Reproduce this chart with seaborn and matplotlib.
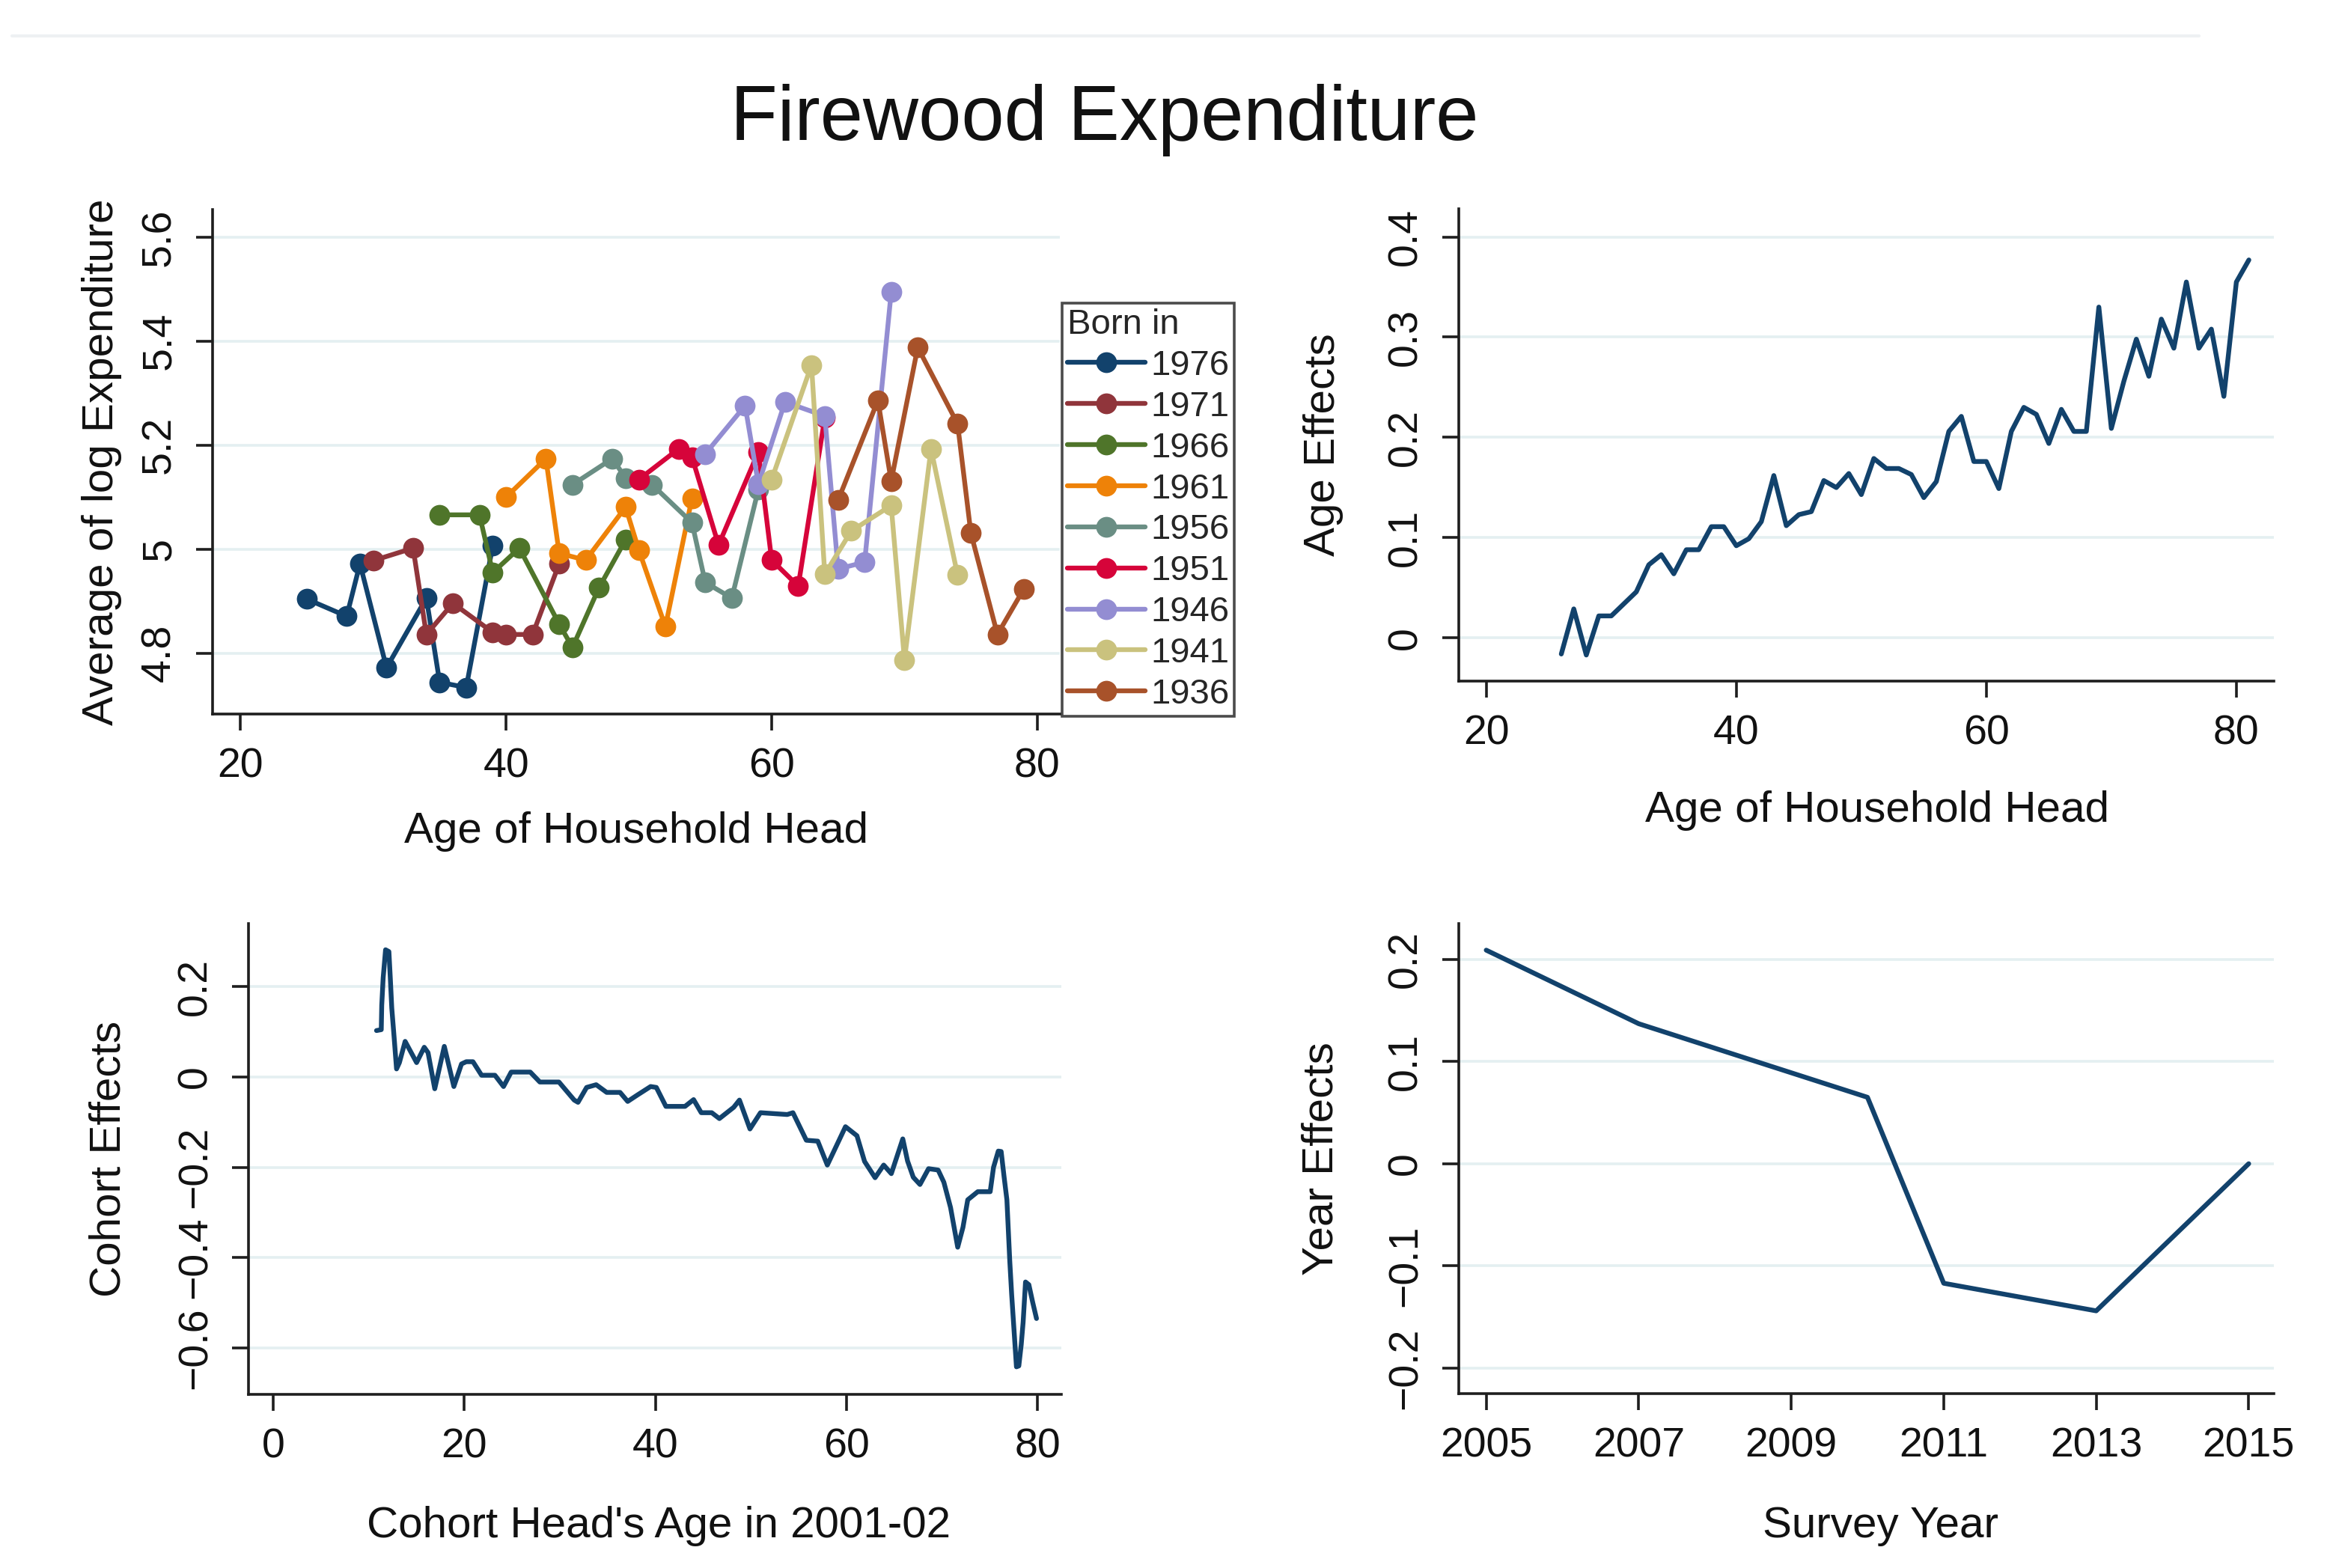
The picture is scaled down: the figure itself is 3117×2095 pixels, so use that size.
import numpy as np
import pandas as pd
import matplotlib
matplotlib.use("Agg")
import matplotlib.pyplot as plt
from matplotlib.lines import Line2D
from matplotlib.ticker import FixedLocator, FuncFormatter
import seaborn as sns

# ---- data ----
cohorts = ["1976", "1971", "1966", "1961", "1956", "1951", "1946", "1941", "1936"]
cohort_colors = ["#12426c", "#90353b", "#4f752a", "#ee8208", "#6a8e84",
                 "#d6043a", "#938dd2", "#cac27e", "#a8522a"]

ages_1976 = [25, 28, 29, 31, 34, 35, 37, 39]
exp_1976 = [4.904, 4.871, 4.972, 4.772, 4.906, 4.744, 4.734, 5.007]
ages_1971 = [30, 33, 34, 36, 39, 40, 42, 44]
exp_1971 = [4.978, 5.002, 4.836, 4.896, 4.840, 4.836, 4.836, 4.972]
ages_1966 = [35, 38, 39, 41, 44, 45, 47, 49]
exp_1966 = [5.066, 5.066, 4.955, 5.002, 4.856, 4.811, 4.926, 5.018]
ages_1961 = [40, 43, 44, 46, 49, 50, 52, 54]
exp_1961 = [5.100, 5.174, 4.992, 4.979, 5.081, 4.998, 4.851, 5.098]
ages_1956 = [45, 48, 49, 51, 54, 55, 57, 59]
exp_1956 = [5.124, 5.174, 5.137, 5.124, 5.051, 4.936, 4.906, 5.115]
ages_1951 = [50, 53, 54, 56, 59, 60, 62, 64]
exp_1951 = [5.134, 5.193, 5.177, 5.008, 5.187, 4.979, 4.929, 5.253]
ages_1946 = [55, 58, 59, 61, 64, 65, 67, 69]
exp_1946 = [5.183, 5.276, 5.125, 5.283, 5.256, 4.962, 4.975, 5.494]
ages_1941 = [60, 63, 64, 66, 69, 70, 72, 74]
exp_1941 = [5.134, 5.354, 4.952, 5.035, 5.084, 4.787, 5.193, 4.950]
ages_1936 = [65, 68, 69, 71, 74, 75, 77, 79]
exp_1936 = [5.094, 5.286, 5.131, 5.388, 5.241, 5.031, 4.836, 4.924]

age_years = list(range(26, 82))
age_effects = [-0.016, 0.029, -0.017, 0.022, 0.022, 0.034, 0.046, 0.073, 0.083, 0.064,
               0.088, 0.088, 0.111, 0.111, 0.092, 0.099, 0.116, 0.162, 0.112, 0.123,
               0.126, 0.157, 0.150, 0.164, 0.143, 0.179, 0.169, 0.169, 0.163, 0.140,
               0.156, 0.206, 0.221, 0.176, 0.176, 0.149, 0.206, 0.230, 0.223, 0.194,
               0.228, 0.206, 0.206, 0.330, 0.209, 0.256, 0.298, 0.261, 0.318, 0.289,
               0.355, 0.289, 0.308, 0.241, 0.355, 0.377]

cohort_head_age = [10.8, 11.3, 11.35, 11.5, 11.75, 12.1, 12.25, 12.4, 12.65, 12.9,
                   13.2, 13.8, 15.0, 15.8, 16.2, 16.9, 17.9, 18.9, 19.7, 20.2,
                   20.9, 21.8, 23.2, 24.1, 24.9, 26.9, 27.9, 29.9, 31.5, 31.9,
                   32.8, 33.8, 34.9, 36.3, 37.1, 38.1, 39.5, 40.1, 41.1, 43.1,
                   44.0, 44.8, 45.9, 46.7, 48.2, 48.8, 49.9, 51.0, 53.8, 54.4,
                   55.8, 57.0, 58.0, 59.9, 61.1, 61.9, 63.0, 63.9, 64.7, 65.9,
                   66.4, 67.0, 67.7, 68.6, 69.6, 70.2, 70.9, 71.65, 72.2, 72.7,
                   73.75, 75.05, 75.4, 75.9, 76.2, 76.5, 76.8, 77.1, 77.3, 77.55,
                   77.8, 78.05, 78.3, 78.5, 78.75, 79.1, 79.5, 79.9]
cohort_effects = [0.103, 0.105, 0.159, 0.22, 0.282, 0.278, 0.218, 0.153, 0.087, 0.018,
                  0.032, 0.079, 0.032, 0.066, 0.054, -0.026, 0.068, -0.021, 0.029, 0.034,
                  0.034, 0.004, 0.004, -0.021, 0.011, 0.011, -0.011, -0.011, -0.051, -0.056,
                  -0.023, -0.017, -0.034, -0.034, -0.054, -0.040, -0.021, -0.023, -0.065, -0.065,
                  -0.050, -0.079, -0.079, -0.092, -0.067, -0.051, -0.115, -0.079, -0.083, -0.079,
                  -0.140, -0.142, -0.195, -0.110, -0.130, -0.187, -0.223, -0.195, -0.214, -0.137,
                  -0.186, -0.222, -0.238, -0.203, -0.206, -0.233, -0.289, -0.377, -0.333, -0.272,
                  -0.254, -0.254, -0.200, -0.164, -0.165, -0.220, -0.272, -0.407, -0.482, -0.562,
                  -0.642, -0.640, -0.593, -0.543, -0.454, -0.460, -0.499, -0.535]

survey_years = [2005, 2007, 2010, 2011, 2013, 2015]
year_effects = [0.209, 0.137, 0.065, -0.117, -0.144, 0.0]

# long table for the cohort panel
ages_all = [ages_1976, ages_1971, ages_1966, ages_1961, ages_1956,
            ages_1951, ages_1946, ages_1941, ages_1936]
exp_all = [exp_1976, exp_1971, exp_1966, exp_1961, exp_1956,
           exp_1951, exp_1946, exp_1941, exp_1936]
rows = []
for c, a, e in zip(cohorts, ages_all, exp_all):
    for ai, ei in zip(a, e):
        rows.append({"age": ai, "exp": ei, "cohort": c})
df_cohort = pd.DataFrame(rows)
df_age = pd.DataFrame({"age": age_years, "eff": age_effects})
df_coh = pd.DataFrame({"age": cohort_head_age, "eff": cohort_effects})
df_year = pd.DataFrame({"year": survey_years, "eff": year_effects})

# ---- style ----
sns.set_theme(style="white")
plt.rcParams["font.family"] = ["Liberation Sans", "DejaVu Sans"]
plt.rcParams["axes.unicode_minus"] = True

navy = "#12426c"
grid_col = "#e4eff1"
LW = 2.3
MS = 10
W, H = 3117, 2095
fig = plt.figure(figsize=(W / 200, H / 200), dpi=200)


def box(l, t, r, b):
    return [l / W, 1 - b / H, (r - l) / W, (b - t) / H]


def fmt(v, pos):
    s = f"{v:g}"
    return s.replace("-", "\u2212")


def style_axis(ax, xticks, yticks, xlim, ylim, xlabel, ylabel, xl_pos, yl_pos):
    ax.set_xlim(*xlim)
    ax.set_ylim(*ylim)
    ax.xaxis.set_major_locator(FixedLocator(xticks))
    ax.yaxis.set_major_locator(FixedLocator(yticks))
    ax.xaxis.set_major_formatter(FuncFormatter(fmt))
    ax.yaxis.set_major_formatter(FuncFormatter(fmt))
    for s in ["top", "right"]:
        ax.spines[s].set_visible(False)
    for s in ["left", "bottom"]:
        ax.spines[s].set_color("#1e1e1e")
        ax.spines[s].set_linewidth(1.3)
    ax.yaxis.grid(True, color=grid_col, linewidth=1.3)
    ax.xaxis.grid(False)
    ax.set_axisbelow(True)
    ax.tick_params(axis="both", direction="out", length=8, width=1.3,
                   color="#1e1e1e", labelsize=20, labelcolor="#111111", pad=8,
                   bottom=True, left=True)
    ax.tick_params(axis="y", labelrotation=90)
    for lab in ax.get_yticklabels():
        lab.set_va("center")
    ax.set_xlabel(xlabel, fontsize=21, va="top", color="#111111")
    ax.set_ylabel(ylabel, fontsize=21, color="#111111")
    ax.xaxis.set_label_coords(*xl_pos)
    ax.yaxis.set_label_coords(*yl_pos)
    ax.set_facecolor("white")


# ---- panel 1: averages by birth cohort ----
ax1 = fig.add_axes(box(284, 280, 1416, 954))
sns.lineplot(data=df_cohort, x="age", y="exp", hue="cohort", hue_order=cohorts,
             palette=cohort_colors, marker="o", markersize=MS, markeredgewidth=0,
             linewidth=LW, estimator=None, legend=False, ax=ax1)
style_axis(ax1, [20, 40, 60, 80], [4.8, 5.0, 5.2, 5.4, 5.6], (17.9, 81.7), (4.683, 5.653),
           "Age of Household Head", "Average of log Expenditure", (0.5, -0.193), (-0.107, 0.5))
handles = [Line2D([], [], color=c, marker="o", markersize=MS, markeredgewidth=0, linewidth=LW)
           for c in cohort_colors]
leg = ax1.legend(handles, cohorts, title="Born in", loc="upper left",
                 bbox_to_anchor=(1419 / W, 1 - 405 / H), bbox_transform=fig.transFigure,
                 borderaxespad=0, fontsize=17, title_fontsize=17, alignment="left",
                 handlelength=2.2, handletextpad=0.15, labelspacing=0.23,
                 borderpad=0.15, frameon=True, fancybox=False)
leg.get_frame().set_edgecolor("#1e1e1e")
leg.get_frame().set_linewidth(1.3)

# ---- panel 2: age effects ----
ax2 = fig.add_axes(box(1949, 279, 3038, 910))
sns.lineplot(data=df_age, x="age", y="eff", color=navy, linewidth=LW, ax=ax2)
style_axis(ax2, [20, 40, 60, 80], [0, 0.1, 0.2, 0.3, 0.4], (17.8, 83.0), (-0.043, 0.428),
           "Age of Household Head", "Age Effects", (0.513, -0.231), (-0.141, 0.5))

# ---- panel 3: cohort effects ----
ax3 = fig.add_axes(box(332, 1234, 1418, 1863))
sns.lineplot(data=df_coh, x="age", y="eff", color=navy, linewidth=LW,
             estimator=None, sort=False, ax=ax3)
style_axis(ax3, [0, 20, 40, 60, 80], [-0.6, -0.4, -0.2, 0, 0.2], (-2.6, 82.5), (-0.703, 0.340),
           "Cohort Head's Age in 2001-02", "Cohort Effects", (0.505, -0.237), (-0.147, 0.5))

# ---- panel 4: year effects ----
ax4 = fig.add_axes(box(1949, 1234, 3038, 1862))
sns.lineplot(data=df_year, x="year", y="eff", color=navy, linewidth=LW, ax=ax4)
style_axis(ax4, [2005, 2007, 2009, 2011, 2013, 2015], [-0.2, -0.1, 0, 0.1, 0.2],
           (2004.64, 2015.33), (-0.225, 0.235),
           "Survey Year", "Year Effects", (0.517, -0.239), (-0.144, 0.5))
ax4.xaxis.set_major_formatter(FuncFormatter(lambda v, p: f"{int(round(v))}"))

# ---- overall title ----
fig.text(1476 / W, 1 - 187 / H, "Firewood Expenditure", ha="center", va="baseline",
         fontsize=37, color="#111111")
fig.add_artist(Line2D([16 / W, 2938 / W], [1 - 48 / H, 1 - 48 / H], color="#eef1f3", linewidth=1.5))

fig.savefig("out.png", dpi=200, facecolor="white")
